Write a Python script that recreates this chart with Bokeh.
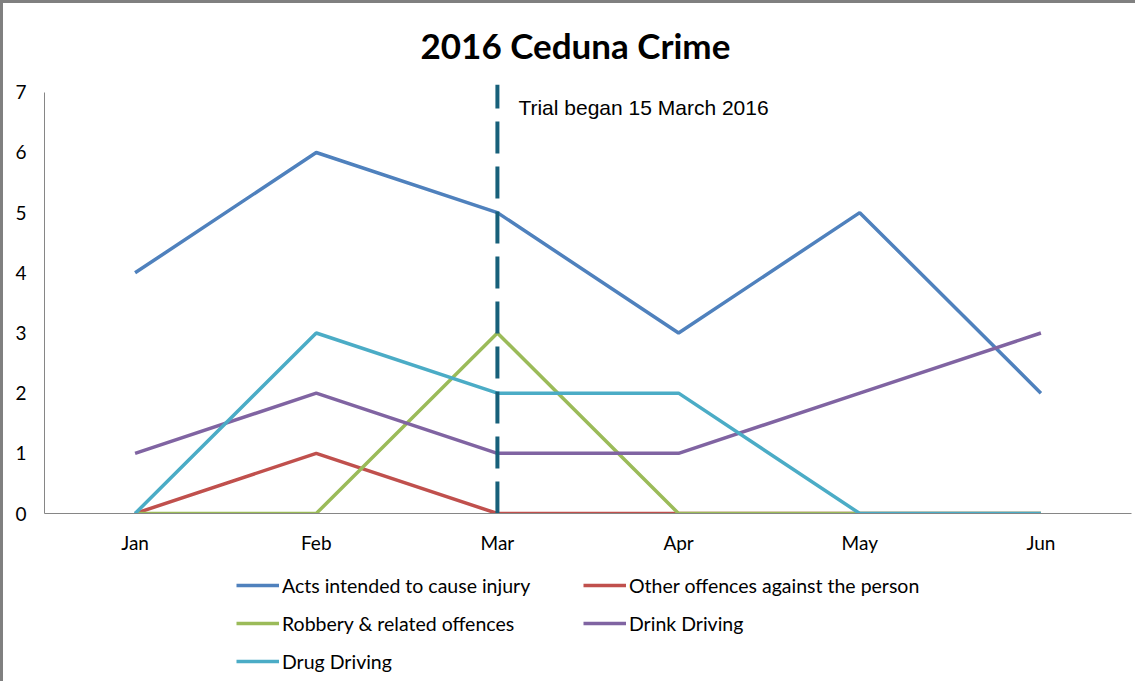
from bokeh.plotting import figure
from bokeh.layouts import column
from bokeh.models import Range1d, SingleIntervalTicker, Legend, LegendItem, ColumnDataSource
from bokeh.core.properties import value
from bokeh.embed import file_html
from bokeh.resources import INLINE

months = ["Jan", "Feb", "Mar", "Apr", "May", "Jun"]
acts_injury = [4, 6, 5, 3, 5, 2]
other_offences = [0, 1, 0, 0, 0, 0]
robbery = [0, 0, 3, 0, 0, 0]
drink_driving = [1, 2, 1, 1, 2, 3]
drug_driving = [0, 3, 2, 2, 0, 0]

series_names = ["Acts intended to cause injury", "Other offences against the person",
                "Robbery & related offences", "Drink Driving", "Drug Driving"]
series_values = [acts_injury, other_offences, robbery, drink_driving, drug_driving]
series_colors = ["#4F81BD", "#C0504D", "#9BBB59", "#8064A2", "#4BACC6"]

trial_month = "Mar"
trial_text = "Trial began 15 March 2016"
trial_text_y = 6.75
y_axis_max = 7
y_view_max = 7.13

FONT = "Lato"
BORDER = "3px solid #808080"

p = figure(width=1135, height=557, x_range=months, y_range=Range1d(0, y_view_max),
           output_backend="svg", toolbar_location=None,
           min_border_left=41, min_border_right=7, min_border_top=80, min_border_bottom=47,
           title="2016 Ceduna Crime")
p.styles = {"border-left": BORDER, "border-top": BORDER}

p.title.text_font = FONT
p.title.text_font_size = "35px"
p.title.text_font_style = "bold"
p.title.align = "left"
p.title.offset = 376
p.title.text_color = "#000000"
p.title.standoff = 37

p.outline_line_color = None
p.xgrid.grid_line_color = None
p.ygrid.grid_line_color = None

p.yaxis.ticker = SingleIntervalTicker(interval=1)
p.yaxis.bounds = (0, y_axis_max)
p.yaxis.axis_line_color = "#868686"
p.yaxis.major_tick_line_color = None
p.yaxis.minor_tick_line_color = None
p.yaxis.major_label_text_font = FONT
p.yaxis.major_label_text_font_size = "19px"
p.yaxis.major_label_text_color = "#000000"
p.yaxis.major_label_standoff = 12

p.xaxis.axis_line_color = "#868686"
p.xaxis.major_tick_line_color = None
p.xaxis.minor_tick_line_color = None
p.xaxis.major_label_text_font = FONT
p.xaxis.major_label_text_font_size = "19px"
p.xaxis.major_label_text_color = "#000000"
p.xaxis.major_label_standoff = 11

for name, vals, col in zip(series_names, series_values, series_colors):
    src = ColumnDataSource(dict(x=months, y=vals))
    p.line("x", "y", source=src, line_color=col, line_width=3.5)

p.segment(x0=[trial_month], y0=[0], x1=[trial_month], y1=[y_view_max],
          line_color="#17607A", line_width=4, line_dash="32 13")

p.text(x=[trial_month], y=[trial_text_y], text=[trial_text], x_offset=21,
       text_font=value("Liberation Sans"), text_font_size="21px",
       text_baseline="middle", text_align="left", text_color="#000000")

# legend panel below the chart (single-point lines: nothing drawn, legend swatch only)
leg = figure(width=1135, height=124, x_range=months, y_range=Range1d(0, y_view_max),
             output_backend="svg", toolbar_location=None,
             x_axis_location=None, y_axis_location=None,
             min_border_left=0, min_border_right=0, min_border_top=0, min_border_bottom=0)
leg.styles = {"border-left": BORDER}
leg.outline_line_color = None
leg.xgrid.grid_line_color = None
leg.ygrid.grid_line_color = None

items = []
for name, vals, col in zip(series_names, series_values, series_colors):
    r = leg.line(x=months[:1], y=vals[:1], line_color=col, line_width=3.5)
    items.append(LegendItem(label=name, renderers=[r]))

legend = Legend(items=items, orientation="horizontal", ncols=2, location=(192, 8),
                label_text_font=FONT, label_text_font_size="19.5px",
                label_text_color="#000000", glyph_width=43, glyph_height=24,
                label_height=24, label_width=287, spacing=14, label_standoff=3,
                background_fill_alpha=0, border_line_color=None, padding=0, margin=0)
leg.add_layout(legend, "center")

layout = column(p, leg, spacing=0)
open("out.html", "w").write(file_html(layout, INLINE))
